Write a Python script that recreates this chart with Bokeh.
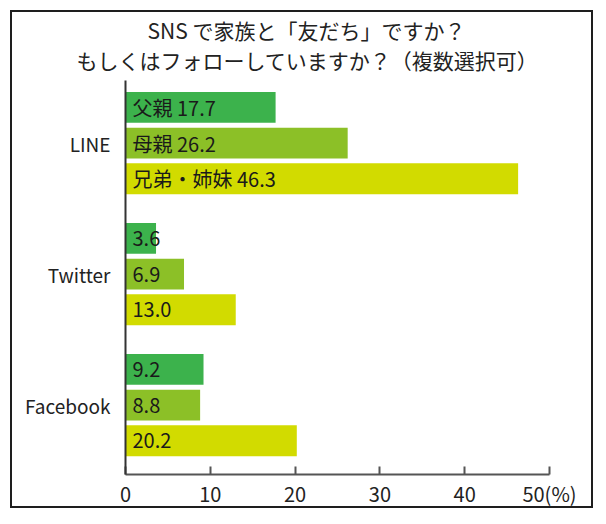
from bokeh.plotting import figure
from bokeh.models import Range1d, FixedTicker, ColumnDataSource, Title
from bokeh.core.properties import value
from bokeh.embed import file_html
from bokeh.resources import INLINE

# ---- data ----
platforms = ["LINE", "Twitter", "Facebook"]
relations = ["父親", "母親", "兄弟・姉妹"]
father = [17.7, 3.6, 9.2]
mother = [26.2, 6.9, 8.8]
siblings = [46.3, 13.0, 20.2]
x_ticks = [0, 10, 20, 30, 40, 50]
x_tick_labels = ["0", "10", "20", "30", "40", "50(%)"]
title_lines = ["SNS で家族と「友だち」ですか？", "もしくはフォローしていますか？（複数選択可）"]

colors = ["#3cb24c", "#8cc027", "#d2db00"]
FONT = "Noto Sans CJK JP"

W, H = 583, 498
FL, FR, FT, FB = 113, 46, 68, 34  # frame borders (px)

# layout units (vertical)
PITCH = 36
STRIDE = 132
BAR_H = 31

series = [father, mother, siblings]
ys, vals, cols, labels = [], [], [], []
for g, plat in enumerate(platforms):
    for i, ser in enumerate(series):
        ys.append(g * STRIDE + i * PITCH)
        vals.append(ser[g])
        cols.append(colors[i])
        num = f"{ser[g]:.1f}"
        labels.append(f"{relations[i]} {num}" if g == 0 else num)

src = ColumnDataSource(dict(y=ys, v=vals, c=cols, lab=labels, x0=[0] * len(ys)))

p = figure(width=W, height=H, output_backend="svg", toolbar_location=None,
           x_range=Range1d(0, 50), y_range=Range1d(370, -27),
           min_border_left=FL, min_border_right=FR, min_border_top=FT, min_border_bottom=FB)

p.styles = {"border": "2px solid #1e1e1e", "margin-left": "10px", "margin-top": "10px"}

p.hbar(y="y", left=0, right="v", height=BAR_H, color="c", source=src, line_color=None)
p.text(x="x0", y="y", text="lab", source=src, x_offset=7, text_align="left",
       text_baseline="middle", text_font=value(FONT), text_font_size="20px", text_color="#1a1a1a")

# title lines: added bottom line first (closest to the frame)
for line, off, stand in [(title_lines[1], -49, 11), (title_lines[0], 22, -14)]:
    p.add_layout(Title(text=line, align="left", offset=off, standoff=stand,
                       text_font=FONT, text_font_size="21px", text_font_style="normal",
                       text_color="#222222"), "above")

p.grid.visible = False
p.outline_line_color = None
p.background_fill_color = "white"
p.border_fill_alpha = 0

xa = p.xaxis[0]
xa.ticker = FixedTicker(ticks=x_ticks)
xa.major_label_overrides = {t: l for t, l in zip(x_ticks, x_tick_labels)}
xa.major_tick_in = 8
xa.major_tick_out = 0
xa.minor_tick_in = 0
xa.minor_tick_out = 0
xa.axis_line_color = "#555555"
xa.axis_line_width = 2
xa.major_tick_line_color = "#555555"
xa.major_tick_line_width = 2
xa.major_label_text_font = FONT
xa.major_label_text_font_size = "20px"
xa.major_label_text_color = "#222222"
xa.major_label_standoff = 4

ya = p.yaxis[0]
ya.ticker = FixedTicker(ticks=[g * STRIDE + PITCH for g in range(len(platforms))])
ya.major_label_overrides = {g * STRIDE + PITCH: plat for g, plat in enumerate(platforms)}
ya.major_tick_in = 0
ya.major_tick_out = 0
ya.minor_tick_in = 0
ya.minor_tick_out = 0
ya.axis_line_color = "#333333"
ya.axis_line_width = 2
ya.major_label_text_font = FONT
ya.major_label_text_font_size = "19px"
ya.major_label_text_color = "#222222"
ya.major_label_standoff = 15

open("out.html", "w").write(file_html(p, INLINE))
